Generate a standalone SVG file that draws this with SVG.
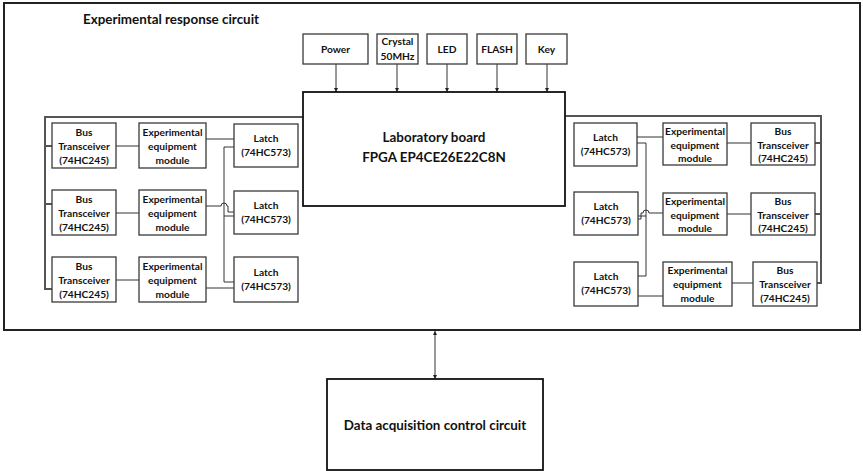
<svg xmlns="http://www.w3.org/2000/svg" width="863" height="471" viewBox="0 0 863 471">
<style>
  .bx{fill:#fff;stroke:#3a3a3a;stroke-width:1.3}
  .big{fill:#fff;stroke:#111;stroke-width:1.8}
  .frame{fill:none;stroke:#555;stroke-width:2}
  .ln{fill:none;stroke:#333;stroke-width:1}
  .t{font-family:Lato,"Liberation Sans",sans-serif;font-weight:bold;font-size:10.2px;fill:#111;text-anchor:middle}
  .tl{font-family:Lato,"Liberation Sans",sans-serif;font-weight:bold;font-size:13.4px;fill:#111;text-anchor:middle}
</style>
<defs>
  <marker id="ar" viewBox="0 0 6 6" refX="6" refY="3" markerWidth="4" markerHeight="4" orient="auto-start-reverse">
    <path d="M0,0 L6,3 L0,6 z" fill="#222"/>
  </marker>
</defs>
<g id="outer-frame">
  <rect x="4" y="3" width="856" height="327" fill="none" stroke="#222" stroke-width="2"/>
  <text x="83" y="24" class="tl" style="text-anchor:start">Experimental response circuit</text>
</g>
<g id="connectors">
  <path class="ln" marker-end="url(#ar)" d="M336,64 V92"/>
  <path class="ln" marker-end="url(#ar)" d="M397,64 V92"/>
  <path class="ln" marker-end="url(#ar)" d="M447,64 V92"/>
  <path class="ln" marker-end="url(#ar)" d="M497,64 V92"/>
  <path class="ln" marker-end="url(#ar)" d="M547,64 V92"/>
  <path class="ln" marker-start="url(#ar)" marker-end="url(#ar)" d="M435,331 V379"/>
  <path class="frame" d="M303,117 H45 V289 H52 M45,146 H52 M45,204 H52"/>
  <path class="frame" d="M565,116 H821 V283 H817 M815,143 H821 M815,214 H821"/>
  <path class="ln" d="M116,146 H139 M116,213 H139 M116,280 H139"/>
  <path class="ln" d="M206,139 H234"/>
  <path class="ln" d="M234,147 H224 V282 H234 M224,216 H234"/>
  <path class="ln" d="M206,206 H221 a3,3 0 0 1 6,0 H228 V212 H234"/>
  <path class="ln" d="M206,288 H234"/>
  <path class="ln" d="M637,137 H663 M727,143 H751 M727,214 H751 M732,283 H753"/>
  <path class="ln" d="M637,143 H646 V276 H638 M646,216 H638"/>
  <path class="ln" d="M663,213 H649 a3,3 0 0 0 -6,0 H641 V219 H638"/>
  <path class="ln" d="M638,296 H663"/>
</g>
<g id="power"><rect class="bx" x="303" y="34" width="65" height="30"/><text class="t" x="335.5" y="53">Power</text></g>
<g id="crystal"><rect class="bx" x="377" y="34" width="41" height="30"/><text class="t" x="397.5" y="45">Crystal</text><text class="t" x="397.5" y="60">50MHz</text></g>
<g id="led"><rect class="bx" x="427" y="34" width="40" height="30"/><text class="t" x="447" y="53">LED</text></g>
<g id="flash"><rect class="bx" x="477" y="34" width="40" height="30"/><text class="t" x="497" y="53">FLASH</text></g>
<g id="key"><rect class="bx" x="526" y="34" width="41" height="30"/><text class="t" x="546.5" y="53">Key</text></g>
<g id="board"><rect class="big" x="303" y="92" width="262" height="114"/><text class="tl" x="434" y="142">Laboratory board</text><text class="tl" x="434" y="162">FPGA EP4CE26E22C8N</text></g>

<g id="bus-l1"><rect class="bx" x="52" y="123" width="64" height="45"/><text class="t" x="84" y="136">Bus</text><text class="t" x="84" y="150">Transceiver</text><text class="t" x="84" y="164">(74HC245)</text></g>
<g id="bus-l2"><rect class="bx" x="52" y="190" width="64" height="45"/><text class="t" x="84" y="203">Bus</text><text class="t" x="84" y="217">Transceiver</text><text class="t" x="84" y="231">(74HC245)</text></g>
<g id="bus-l3"><rect class="bx" x="52" y="257" width="64" height="45"/><text class="t" x="84" y="270">Bus</text><text class="t" x="84" y="284">Transceiver</text><text class="t" x="84" y="298">(74HC245)</text></g>

<g id="exp-l1"><rect class="bx" x="139" y="123" width="67" height="45"/><text class="t" x="172.5" y="136">Experimental</text><text class="t" x="172.5" y="150">equipment</text><text class="t" x="172.5" y="164">module</text></g>
<g id="exp-l2"><rect class="bx" x="139" y="190" width="67" height="45"/><text class="t" x="172.5" y="203">Experimental</text><text class="t" x="172.5" y="217">equipment</text><text class="t" x="172.5" y="231">module</text></g>
<g id="exp-l3"><rect class="bx" x="139" y="257" width="67" height="45"/><text class="t" x="172.5" y="270">Experimental</text><text class="t" x="172.5" y="284">equipment</text><text class="t" x="172.5" y="298">module</text></g>

<g id="latch-l1"><rect class="bx" x="234" y="124" width="64" height="43"/><text class="t" x="266" y="142">Latch</text><text class="t" x="266" y="156">(74HC573)</text></g>
<g id="latch-l2"><rect class="bx" x="234" y="191" width="64" height="43"/><text class="t" x="266" y="209">Latch</text><text class="t" x="266" y="223">(74HC573)</text></g>
<g id="latch-l3"><rect class="bx" x="234" y="257" width="64" height="45"/><text class="t" x="266" y="276">Latch</text><text class="t" x="266" y="290">(74HC573)</text></g>

<g id="latch-r1"><rect class="bx" x="574" y="123" width="63" height="43"/><text class="t" x="605.5" y="141">Latch</text><text class="t" x="605.5" y="155">(74HC573)</text></g>
<g id="latch-r2"><rect class="bx" x="574" y="192" width="64" height="43"/><text class="t" x="606" y="210">Latch</text><text class="t" x="606" y="224">(74HC573)</text></g>
<g id="latch-r3"><rect class="bx" x="574" y="262" width="64" height="44"/><text class="t" x="606" y="280">Latch</text><text class="t" x="606" y="294">(74HC573)</text></g>

<g id="exp-r1"><rect class="bx" x="663" y="123" width="64" height="42"/><text class="t" x="695" y="135">Experimental</text><text class="t" x="695" y="149">equipment</text><text class="t" x="695" y="162">module</text></g>
<g id="exp-r2"><rect class="bx" x="663" y="193" width="64" height="42"/><text class="t" x="695" y="205">Experimental</text><text class="t" x="695" y="219">equipment</text><text class="t" x="695" y="232">module</text></g>
<g id="exp-r3"><rect class="bx" x="663" y="262" width="69" height="44"/><text class="t" x="697.5" y="274">Experimental</text><text class="t" x="697.5" y="288">equipment</text><text class="t" x="697.5" y="302">module</text></g>

<g id="bus-r1"><rect class="bx" x="751" y="123" width="64" height="42"/><text class="t" x="783" y="135">Bus</text><text class="t" x="783" y="149">Transceiver</text><text class="t" x="783" y="162">(74HC245)</text></g>
<g id="bus-r2"><rect class="bx" x="751" y="193" width="64" height="42"/><text class="t" x="783" y="205">Bus</text><text class="t" x="783" y="219">Transceiver</text><text class="t" x="783" y="232">(74HC245)</text></g>
<g id="bus-r3"><rect class="bx" x="753" y="262" width="64" height="44"/><text class="t" x="785" y="274">Bus</text><text class="t" x="785" y="288">Transceiver</text><text class="t" x="785" y="302">(74HC245)</text></g>

<g id="daq"><rect class="big" x="327" y="379" width="216" height="91"/><text class="tl" x="435" y="430">Data acquisition control circuit</text></g>
</svg>
